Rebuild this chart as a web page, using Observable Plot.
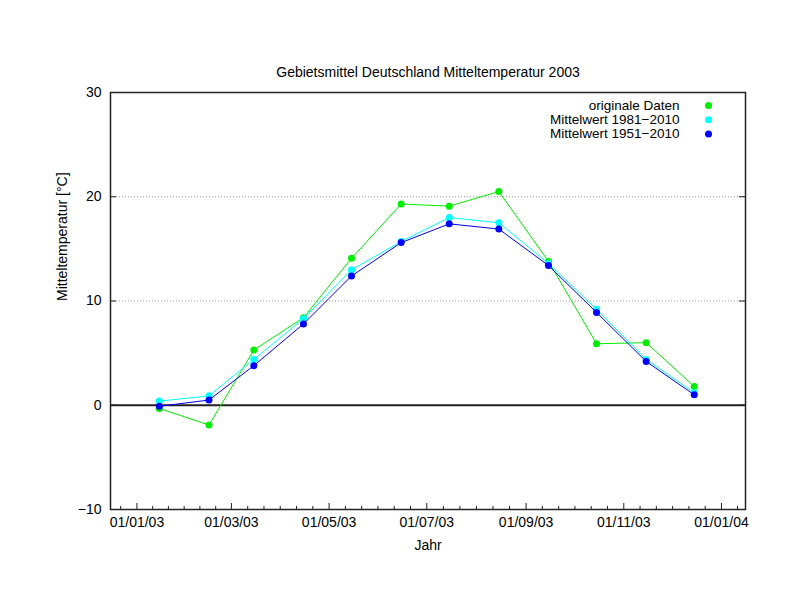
<!DOCTYPE html>
<html><head><meta charset="utf-8">
<script src="https://cdn.jsdelivr.net/npm/d3@7"></script>
<script src="https://cdn.jsdelivr.net/npm/@observablehq/plot@0.6"></script>
<style>body{margin:0;background:#fff} svg{display:block}</style>
</head><body><div id="chart"></div>
<script>
// ---- data ----
const monthIndex = [0,1,2,3,4,5,6,7,8,9,10,11];
const dataYear = 2003;
const dataDay = 15;
const originaleDaten = [-0.3, -1.9, 5.3, 8.4, 14.1, 19.3, 19.1, 20.5, 13.8, 5.9, 6.0, 1.8];
const mittel1981_2010 = [0.4, 0.9, 4.4, 8.3, 13.0, 15.7, 18.0, 17.5, 13.6, 9.2, 4.4, 1.2];
const mittel1951_2010 = [-0.1, 0.5, 3.8, 7.8, 12.4, 15.6, 17.4, 16.9, 13.4, 8.9, 4.2, 1.0];
const seriesNames = ["originale Daten", "Mittelwert 1981\u22122010", "Mittelwert 1951\u22122010"];
const seriesColors = ["#00ee00", "#00ffff", "#0000ff"];
const yTicks = [-10, 0, 10, 20, 30];
const xMajorTicks = ["2003-01-01","2003-03-01","2003-05-01","2003-07-01","2003-09-01","2003-11-01","2004-01-01"];
const xMinorAnchors = ["2002-11-01","2003-01-01","2003-03-01","2003-05-01","2003-07-01","2003-09-01","2003-11-01","2004-01-01","2004-03-01"];
const titleText = "Gebietsmittel Deutschland Mitteltemperatur 2003";
const xLabelText = "Jahr";
const yLabelText = "Mitteltemperatur [\u00b0C]";

// ---- build ----
const xDomain = [new Date(Date.UTC(2002, 11, 15, 12)), new Date(Date.UTC(2004, 0, 16))];
const allSeries = [originaleDaten, mittel1981_2010, mittel1951_2010];
const rows = allSeries.map(vals => monthIndex.map((m, i) => ({date: new Date(Date.UTC(dataYear, m, dataDay)), value: vals[i]})));
const majorDates = xMajorTicks.map(s => new Date(s + "T00:00:00Z"));
const anchors = xMinorAnchors.map(s => new Date(s + "T00:00:00Z"));
const minorDates = [];
for (let k = 0; k < anchors.length - 1; k++) {
  const a = +anchors[k], b = +anchors[k+1];
  for (let j = 1; j < 6; j++) {
    const t = a + (b - a) * j / 6;
    if (t > +xDomain[0] && t < +xDomain[1]) minorDates.push(new Date(t));
  }
}

const W = 792, H = 612, mL = 110, mR = 47, mT = 92, mB = 103;
const pw = W - mL - mR, ph = H - mT - mB;
const FS = 14;
const LFS = 13.5;
const fmtDate = d3.utcFormat("%d/%m/%y");
const fmtNum = d => d < 0 ? "\u2212" + (-d) : String(d);

const marks = [
  Plot.gridY(yTicks, {stroke: "#999", strokeOpacity: 1, strokeDasharray: "1,2"}),
  Plot.ruleY([0], {stroke: "#222", strokeWidth: 2}),
  Plot.tickY(yTicks, {y: d => d, stroke: "#222", insetRight: pw - 6}),
  Plot.tickY(yTicks, {y: d => d, stroke: "#222", insetLeft: pw - 6}),
  Plot.tickX(majorDates, {x: d => d, stroke: "#222", insetTop: ph - 6}),
  Plot.tickX(minorDates, {x: d => d, stroke: "#222", insetTop: ph - 3}),
  Plot.axisY(yTicks, {tickSize: 0, tickPadding: 9, tickFormat: fmtNum, fontSize: FS, label: null}),
  Plot.axisX(majorDates, {tickSize: 0, tickPadding: 8, tickFormat: fmtDate, fontSize: FS, label: null}),
  Plot.frame({stroke: "#222", strokeWidth: 1.5}),
  Plot.text([titleText], {text: d => d, frameAnchor: "top", lineAnchor: "middle", dy: -20, fontSize: FS}),
  Plot.text([xLabelText], {text: d => d, frameAnchor: "bottom", lineAnchor: "middle", dy: 36, fontSize: FS}),
  Plot.text([yLabelText], {text: d => d, frameAnchor: "left", lineAnchor: "middle", dx: -48, rotate: -90, fontSize: FS})
];
rows.forEach((r, i) => {
  marks.push(Plot.line(r, {x: "date", y: "value", stroke: seriesColors[i], strokeWidth: 1}));
  marks.push(Plot.dot(r, {x: "date", y: "value", fill: seriesColors[i], r: 3.5}));
});
seriesNames.forEach((name, i) => {
  marks.push(Plot.text([name], {text: d => d, frameAnchor: "top-right", lineAnchor: "middle", dx: -66, dy: 13 + 14.3 * i, textAnchor: "end", fontSize: LFS}));
  marks.push(Plot.dot([name], {frameAnchor: "top-right", dx: -37, dy: 13 + 14.3 * i, r: 3.5, fill: seriesColors[i]}));
});

const chart = Plot.plot({
  width: W, height: H,
  marginLeft: mL, marginRight: mR, marginTop: mT, marginBottom: mB,
  style: {fontFamily: "'Liberation Sans', Arial, sans-serif", fontSize: FS + "px", color: "black", background: "white"},
  x: {type: "utc", domain: xDomain, axis: null},
  y: {domain: [-10, 30], axis: null},
  marks
});
document.getElementById("chart").appendChild(chart);
</script>
</body></html>
